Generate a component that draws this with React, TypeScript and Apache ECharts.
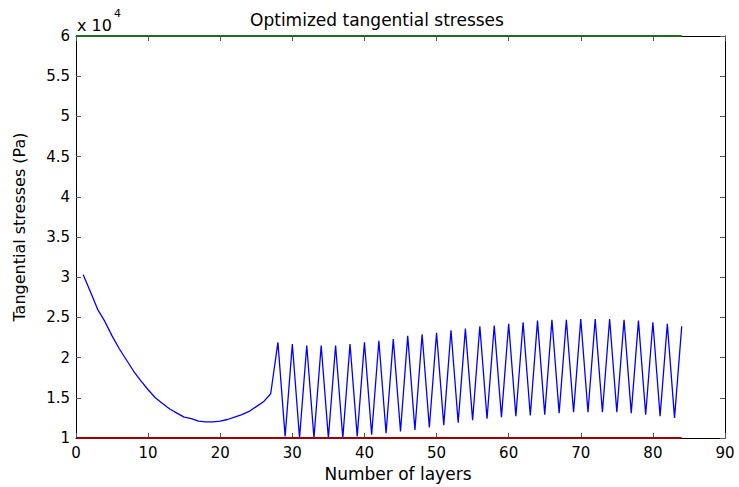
import React, { useEffect, useRef } from "react";
import * as echarts from "echarts";

// Layer numbers (x) and optimized tangential stresses (in units of 10^4 Pa)
const layers = [
  1, 2, 3, 4, 5, 6, 7, 8, 9, 10, 11, 12, 13, 14, 15, 16, 17, 18, 19, 20,
  21, 22, 23, 24, 25, 26, 27, 28, 29, 30, 31, 32, 33, 34, 35, 36, 37, 38, 39, 40,
  41, 42, 43, 44, 45, 46, 47, 48, 49, 50, 51, 52, 53, 54, 55, 56, 57, 58, 59, 60,
  61, 62, 63, 64, 65, 66, 67, 68, 69, 70, 71, 72, 73, 74, 75, 76, 77, 78, 79, 80,
  81, 82, 83, 84,
];
const stressE4 = [
  3.03, 2.82, 2.6, 2.45, 2.27, 2.11, 1.97, 1.83, 1.71, 1.6,
  1.5, 1.43, 1.36, 1.31, 1.26, 1.24, 1.21, 1.2, 1.2, 1.21,
  1.23, 1.26, 1.29, 1.33, 1.39, 1.45, 1.55, 2.19, 1.02, 2.17,
  1.0, 2.15, 1.0, 2.15, 1.0, 2.15, 1.0, 2.17, 1.02, 2.19,
  1.04, 2.21, 1.06, 2.23, 1.08, 2.27, 1.1, 2.29, 1.13, 2.31,
  1.16, 2.34, 1.19, 2.36, 1.22, 2.39, 1.24, 2.4, 1.26, 2.42,
  1.27, 2.44, 1.28, 2.46, 1.29, 2.47, 1.31, 2.47, 1.32, 2.48,
  1.32, 2.48, 1.32, 2.48, 1.32, 2.47, 1.31, 2.46, 1.29, 2.44,
  1.27, 2.42, 1.25, 2.39,
];
// Bound lines
const boundLayers = [0, 84];
const upperBound = [6, 6];
const lowerBound = [1, 1];

// Axes
const xMin = 0;
const xMax = 90;
const xStep = 10;
const yMin = 1;
const yMax = 6;
const yStep = 0.5;

const titleText = "Optimized tangential stresses";
const xName = "Number of layers";
const yName = "Tangential stresses (Pa)";
const scaleBase = "x 10";
const scaleExp = "4";

const FONT = "DejaVu Sans";

export default function App() {
  const ref = useRef<HTMLDivElement>(null);

  useEffect(() => {
    document.body.style.margin = "0";
    if (!ref.current) return;
    const chart = echarts.init(ref.current, undefined, { renderer: "svg" });

    const pairs = (xs: number[], ys: number[]) => xs.map((x, i) => [x, ys[i]]);

    const axisCommon = {
      axisLine: { show: true, onZero: false, lineStyle: { color: "#000", width: 1 } },
      axisTick: { show: true, inside: true, length: 5, lineStyle: { color: "#555", width: 1 } },
      splitLine: { show: false },
    };

    chart.setOption({
      animation: false,
      backgroundColor: "#fff",
      grid: { left: 76, right: 14, top: 36, bottom: 49, containLabel: false },
      xAxis: [
        {
          type: "value",
          min: xMin,
          max: xMax,
          interval: xStep,
          position: "bottom",
          ...axisCommon,
          axisLabel: { show: true, margin: 7, color: "#000", fontSize: 15, fontFamily: FONT },
        },
        {
          type: "value",
          min: xMin,
          max: xMax,
          interval: xStep,
          position: "top",
          ...axisCommon,
          axisLabel: { show: false },
        },
      ],
      yAxis: [
        {
          type: "value",
          min: yMin,
          max: yMax,
          interval: yStep,
          position: "left",
          ...axisCommon,
          axisLabel: {
            show: true,
            margin: 6,
            color: "#000",
            fontSize: 15,
            fontFamily: FONT,
            formatter: (v: number) => String(v),
          },
        },
        {
          type: "value",
          min: yMin,
          max: yMax,
          interval: yStep,
          position: "right",
          ...axisCommon,
          axisLabel: { show: false },
        },
      ],
      series: [
        {
          type: "line",
          data: pairs(layers, stressE4),
          showSymbol: false,
          symbol: "none",
          lineStyle: { color: "#0000ff", width: 1.3 },
          z: 3,
        },
        {
          type: "line",
          data: pairs(boundLayers, upperBound),
          showSymbol: false,
          symbol: "none",
          lineStyle: { color: "#1f6a1f", width: 2 },
          z: 4,
        },
        {
          type: "line",
          data: pairs(boundLayers, lowerBound),
          showSymbol: false,
          symbol: "none",
          lineStyle: { color: "#a00000", width: 2 },
          z: 4,
        },
      ],
      graphic: [
        {
          type: "text",
          x: 377,
          y: 20,
          style: {
            text: titleText,
            fontSize: 17,
            fontFamily: FONT,
            fill: "#000",
            textAlign: "center",
            textVerticalAlign: "middle",
          },
        },
        {
          type: "text",
          x: 398,
          y: 474,
          style: {
            text: xName,
            fontSize: 17,
            fontFamily: FONT,
            fill: "#000",
            textAlign: "center",
            textVerticalAlign: "middle",
          },
        },
        {
          type: "text",
          x: 19,
          y: 227,
          rotation: Math.PI / 2,
          style: {
            text: yName,
            fontSize: 16,
            fontFamily: FONT,
            fill: "#000",
            textAlign: "center",
            textVerticalAlign: "middle",
          },
        },
        {
          type: "text",
          x: 77,
          y: 25,
          style: {
            text: scaleBase,
            fontSize: 16,
            fontFamily: FONT,
            fill: "#000",
            textAlign: "left",
            textVerticalAlign: "middle",
          },
        },
        {
          type: "text",
          x: 114,
          y: 13,
          style: {
            text: scaleExp,
            fontSize: 11,
            fontFamily: FONT,
            fill: "#000",
            textAlign: "left",
            textVerticalAlign: "middle",
          },
        },
      ],
    });

    return () => {
      chart.dispose();
    };
  }, []);

  return <div ref={ref} style={{ width: 739, height: 487 }} />;
}
